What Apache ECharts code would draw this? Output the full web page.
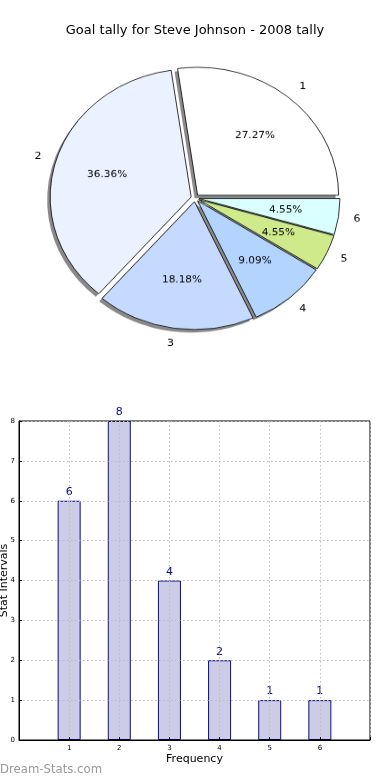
<!DOCTYPE html>
<html>
<head>
<meta charset="utf-8">
<script src="https://cdn.jsdelivr.net/npm/echarts@6/dist/echarts.min.js"></script>
<style>
html,body{margin:0;padding:0;background:#fff;}
#wrap{position:relative;width:390px;height:780px;overflow:hidden;}
#c{position:absolute;left:0;top:0;width:390px;height:780px;}
#p{position:absolute;left:0;top:0;width:390px;height:400px;}
</style>
</head>
<body>
<div id="wrap"><div id="c"></div><div id="p"></div></div>
<script>
const titleText = 'Goal tally for Steve Johnson - 2008 tally';
const categories = ['1', '2', '3', '4', '5', '6'];
const xPositions = [1, 2, 3, 4, 5, 6];
const goals = [6, 8, 4, 2, 1, 1];
const sliceColors = ['#ffffff', '#eaf1ff', '#c6d9ff', '#b3d4ff', '#cfea8a', '#d9ffff'];
const yTicks = [0, 1, 2, 3, 4, 5, 6, 7, 8];
const yAxisName = 'Stat Intervals';
const xAxisName = 'Frequency';
const watermark = 'Dream-Stats.com';

const FONT = 'DejaVu Sans';
const total = goals.reduce((a, b) => a + b, 0);
// pie is an ellipse (as in the original): horizontal radius RX, vertical RY
const RX = 141, RY = 128;
const CENTER = [195, 198];
const OFFSET = 4;
const SCALE_Y = RY / RX;
const pdiv = document.getElementById('p');
pdiv.style.transformOrigin = CENTER[0] + 'px ' + CENTER[1] + 'px';
pdiv.style.transform = 'scaleY(' + SCALE_Y + ')';

// side of each slice (for label alignment like the original)
let acc = 0;
const sideRight = goals.map(v => {
  const mid = (acc + v / 2) / total * 2 * Math.PI;
  acc += v;
  return Math.cos(mid) >= 0;
});

const pieData = categories.map((c, i) => ({
  name: c, value: goals[i], selected: true,
  itemStyle: { color: sliceColors[i] }
}));
const shadowData = categories.map((c, i) => ({ name: c, value: goals[i], selected: true }));
const pctData = categories.map((c, i) => ({ name: c, value: goals[i], selected: true }));
const nameData = categories.map((c, i) => ({
  name: c, value: goals[i], selected: true,
  label: { padding: sideRight[i] ? [0, 0, 0, 3] : [0, 3, 0, 0] }
}));

const common = {
  type: 'pie', center: CENTER, startAngle: 0, clockwise: false,
  selectedMode: 'multiple', selectedOffset: OFFSET, silent: true,
  avoidLabelOverlap: false, minShowLabelAngle: 0,
  emphasis: { disabled: true },
  labelLine: { show: false }
};
const clear = { color: 'rgba(0,0,0,0)', borderWidth: 0 };

const pie = echarts.init(pdiv, null, { renderer: 'canvas' });
pie.setOption({
  animation: false,
  textStyle: { fontFamily: FONT },
  series: [
    Object.assign({}, common, {
      radius: RX, center: [CENTER[0] - 3, CENTER[1] + 3 / SCALE_Y], z: 1,
      label: { show: false },
      itemStyle: { color: '#8a8a8a', borderWidth: 0 },
      select: { itemStyle: { color: '#8a8a8a', borderWidth: 0 } },
      data: shadowData
    }),
    Object.assign({}, common, {
      radius: RX, z: 2,
      label: { show: false },
      itemStyle: { borderColor: '#000', borderWidth: 0.8 },
      select: { itemStyle: { borderColor: '#000', borderWidth: 0.8 } },
      data: pieData
    }),
    Object.assign({}, common, {
      radius: RX * 1.2, z: 3,
      itemStyle: clear,
      label: {
        show: true, position: 'inside', fontFamily: FONT, fontSize: 10.5, color: '#000',
        formatter: p => (p.value / total * 100).toFixed(2) + '%'
      },
      select: { itemStyle: clear, label: { show: true } },
      data: pctData
    }),
    Object.assign({}, common, {
      radius: RX * 2.2, z: 3,
      itemStyle: clear,
      label: {
        show: true, position: 'inside', fontFamily: FONT, fontSize: 11, color: '#000',
        formatter: p => p.name
      },
      select: { itemStyle: clear, label: { show: true } },
      data: nameData
    })
  ]
});

const chart = echarts.init(document.getElementById('c'), null, { renderer: 'canvas' });
chart.setOption({
  animation: false,
  backgroundColor: '#ffffff',
  textStyle: { fontFamily: FONT },
  title: {
    text: titleText, left: 'center', top: 19,
    textStyle: { fontFamily: FONT, fontSize: 13, fontWeight: 'normal', color: '#000' }
  },
  graphic: [{
    type: 'text', left: 0, top: 764,
    style: { text: watermark, font: '11.7px "DejaVu Sans"', fill: '#9a9a9a' }
  }],
  grid: {
    left: 19, right: 20, top: 421, bottom: 40,
    outerBoundsMode: 'none', containLabel: false,
    show: true, borderColor: '#000', borderWidth: 1, backgroundColor: 'transparent'
  },
  xAxis: {
    type: 'value', min: 0, max: 7, interval: 1,
    name: xAxisName, nameLocation: 'middle', nameGap: 14, nameMoveOverlap: false,
    nameTextStyle: { fontFamily: FONT, fontSize: 11, color: '#000' },
    axisLine: { show: true, lineStyle: { color: '#000' } },
    axisTick: { show: true, inside: true, length: 3, lineStyle: { color: '#000' } },
    axisLabel: {
      fontFamily: FONT, fontSize: 7, color: '#000', margin: 5, hideOverlap: false,
      formatter: v => (xPositions.indexOf(v) >= 0 ? categories[xPositions.indexOf(v)] : '')
    },
    splitLine: { show: true, lineStyle: { type: [1.5, 2.5], color: '#bdbdbd', width: 1 } }
  },
  yAxis: {
    type: 'value', min: yTicks[0], max: yTicks[yTicks.length - 1], interval: 1,
    name: yAxisName, nameLocation: 'middle', nameGap: 9, nameRotate: 90, nameMoveOverlap: false,
    nameTextStyle: { fontFamily: FONT, fontSize: 11, color: '#000' },
    axisLine: { show: true, lineStyle: { color: '#000' } },
    axisTick: { show: true, inside: true, length: 3, lineStyle: { color: '#000' } },
    axisLabel: { fontFamily: FONT, fontSize: 7, color: '#000', margin: 4, hideOverlap: false },
    splitLine: { show: true, lineStyle: { type: [1.5, 2.5], color: '#bdbdbd', width: 1 } }
  },
  series: [
    {
      type: 'bar', silent: true, barWidth: 23, z: -1,
      itemStyle: { color: '#ccccE6', borderColor: '#0a0a8c', borderWidth: 1 },
      label: {
        show: true, position: 'top', distance: 3,
        fontFamily: FONT, fontSize: 11, color: '#0a0a8c'
      },
      emphasis: { disabled: true },
      data: xPositions.map((x, i) => [x, goals[i]])
    }
  ]
});
</script>
</body>
</html>
